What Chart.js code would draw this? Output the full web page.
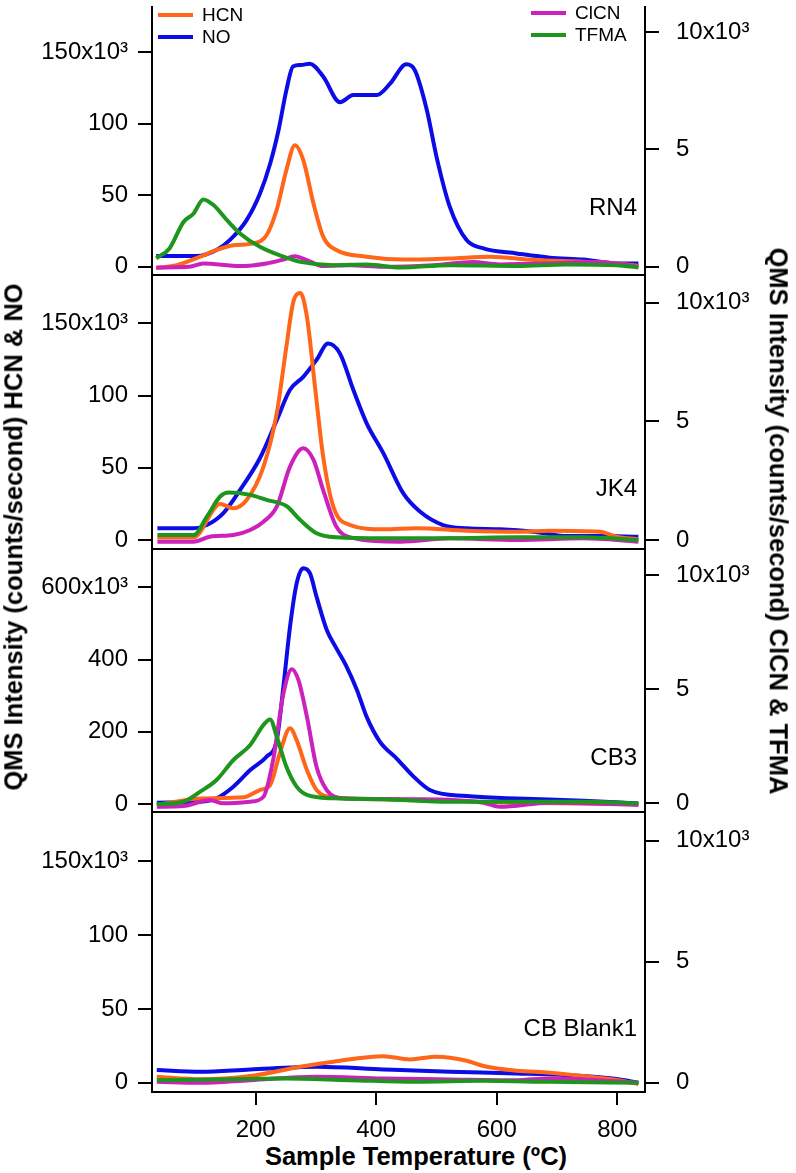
<!DOCTYPE html>
<html>
<head>
<meta charset="utf-8">
<script src="https://cdn.jsdelivr.net/npm/chart.js@4.4.1/dist/chart.umd.min.js"></script>
<style>
  html, body { margin: 0; padding: 0; background: #fff; }
  #wrap { position: relative; width: 796px; height: 1173px; overflow: hidden;
          font-family: "Liberation Sans", Arial, sans-serif; color: #000; }
  .panel { position: absolute; left: 0; width: 796px; }
  .title { position: absolute; font-weight: bold; font-size: 25.5px; line-height: 1; white-space: nowrap; }
</style>
</head>
<body>
<div id="wrap">
  <div class="panel" style="top:0;height:279px"><canvas id="c1"></canvas></div>
  <div class="panel" style="top:271px;height:282px"><canvas id="c2"></canvas></div>
  <div class="panel" style="top:545px;height:271px"><canvas id="c3"></canvas></div>
  <div class="panel" style="top:808px;height:334px"><canvas id="c4"></canvas></div>

  <div class="title" style="left:14px;top:537px;transform:translate(-50%,-50%) rotate(-90deg)">QMS Intensity (counts/second) HCN &amp; NO</div>
  <div class="title" style="left:778px;top:521px;transform:translate(-50%,-50%) rotate(90deg)">QMS Intensity (counts/second) ClCN &amp; TFMA</div>
  <div class="title" style="left:416px;top:1157px;transform:translate(-50%,-50%)">Sample Temperature (ºC)</div>
</div>

<script>
'use strict';

// ── Axis ticks ────────────────────────────────────────────────
const X_TICKS      = [200, 400, 600, 800];
const LEFT_TICKS   = [0, 50, 100, 150];
const LEFT_TICKS_3 = [0, 200, 400, 600];
const RIGHT_TICKS  = [0, 5, 10];

// ── RN4 (values in thousands of counts/s) ────────────────────
const rn4NoT   = [35,102,135,157,185,207,224,238,251,262,275,290,312,340,362,401,423,450,464,484,500,522,550,578,633,688,744,799,835];
const rn4No    = [7.5,7.5,11.7,18.6,32.6,51,72,95.6,123.5,140,141,142,133,115,120,120,128,141.5,137.5,109.6,77,42,18.6,12.8,9.3,6.3,5,2.3,2.3];
const rn4HcnT  = [35,69,108,135,163,196,218,235,251,265,279,296,312,334,384,445,522,589,661,744,799,835];
const rn4Hcn   = [-1,1,7,11.7,15,16.3,22,40,67.6,85,74.6,44,21,11.7,7,5,5.8,7,4.7,3.5,2.3,0.5];
const rn4ClcnT = [35,90,113,174,218,246,265,285,312,357,412,495,561,605,688,755,799,835];
const rn4Clcn  = [-0.03,0,0.14,0.03,0.14,0.31,0.45,0.28,0.03,0.07,0,0.07,0.2,0.1,0.14,0.2,0.14,0];
const rn4TfmaT = [35,57,80,97,113,130,152,174,207,246,274,329,384,440,522,633,716,799,835];
const rn4Tfma  = [0.36,0.78,1.9,2.27,2.87,2.63,2.0,1.42,0.85,0.43,0.21,0.07,0.1,-0.03,0.07,0.03,0.1,0.07,-0.03];

// ── JK4 ───────────────────────────────────────────────────────
const jk4NoT   = [37,97,119,146,174,207,235,257,279,301,320,340,362,384,412,445,473,511,550,605,661,716,771,835];
const jk4No    = [8.1,8.1,10.4,18.5,34.6,56.6,83,104,113,124.7,136,129,104,81,60,32.3,19.6,10.4,8.1,7.4,5.8,2.8,2.8,2.3];
const jk4HcnT  = [37,97,141,163,185,213,235,251,262,274,285,299,312,329,357,412,467,550,633,688,771,799,835];
const jk4Hcn   = [1.8,1.8,25,22,27.7,50.8,87.8,134,164,171,154.7,104,57.7,23,10.4,7.4,8.1,6.5,5.8,6.5,5.8,2.3,0.5];
const jk4ClcnT = [37,97,124,163,191,213,235,257,279,296,312,334,357,440,522,633,744,835];
const jk4Clcn  = [-0.07,-0.07,0.14,0.21,0.42,0.77,1.4,3.09,3.86,3.37,2.1,0.56,0.11,-0.07,0.07,0,0.07,-0.07];
const jk4TfmaT = [37,97,119,141,155,191,218,251,274,301,334,412,522,633,744,835];
const jk4Tfma  = [0.21,0.21,0.98,1.83,2.0,1.9,1.69,1.43,0.84,0.28,0.11,0.07,0.07,0.11,0.11,0];

// ── CB3 ───────────────────────────────────────────────────────
const cb3NoT   = [36,108,135,163,191,218,235,246,257,268,279,290,301,318,334,351,368,384,406,434,462,489,550,633,744,835];
const cb3No    = [3.7,6.5,15.7,48,94,131,177,325,491,611,653,639,574,482,431,380,316,242,173,126,76,39,22,15.7,9,1.8];
const cb3HcnT  = [36,108,180,207,224,240,257,268,285,301,329,412,522,633,744,835];
const cb3Hcn   = [-2.8,15.7,18.5,38.8,52.6,140,210,177,94,38.8,18.5,13,9,3.7,1.8,0];
const cb3ClcnT = [36,80,124,146,191,213,229,246,260,271,285,301,318,345,467,578,605,688,835];
const cb3Clcn  = [-0.15,-0.12,0.15,0,0.07,0.29,1.9,4.8,5.88,5.4,3.8,1.6,0.58,0.22,0.18,0.03,-0.15,0.03,-0.07];
const cb3TfmaT = [36,80,108,135,163,191,213,224,235,251,268,285,329,412,522,633,744,835];
const cb3Tfma  = [-0.04,0.07,0.51,1.02,1.9,2.56,3.44,3.68,2.92,1.6,0.73,0.37,0.22,0.18,0.07,0.07,0.07,0];

// ── CB Blank1 ─────────────────────────────────────────────────
const blkNoT   = [36,108,191,301,412,522,633,744,799,835];
const blkNo    = [8.6,7.4,9,10.8,9,7.4,6.3,4.5,2.5,0];
const blkHcnT  = [36,108,191,274,329,412,456,500,550,578,633,688,744,799,835];
const blkHcn   = [4,2.3,4.5,10.8,14.2,18,15.8,17.6,14.9,11.3,8.1,6.8,4.5,1.8,-0.9];
const blkClcnT = [36,108,191,301,412,522,633,688,744,835];
const blkClcn  = [0.04,0,0.11,0.25,0.18,0.14,0.11,0.18,0.14,0];
const blkTfmaT = [36,135,246,356,467,578,688,835];
const blkTfma  = [0.11,0.14,0.18,0.11,0.04,0.08,0.04,0];

const COLORS = { HCN: '#ff6619', NO: '#0c0ce6', ClCN: '#cc22bb', TFMA: '#1e961e' };
const FONT = '"Liberation Sans", Arial, sans-serif';

Chart.defaults.font.family = FONT;
Chart.defaults.color = '#000';

const pts = (t, v) => t.map((x, i) => ({ x, y: v[i] }));

// panel name, drawn at the right side of each plot
const panelLabel = {
  id: 'panelLabel',
  afterDatasetsDraw(chart, args, opts) {
    const { ctx, chartArea } = chart;
    ctx.save();
    ctx.font = '24px ' + FONT;
    ctx.fillStyle = '#000';
    ctx.textAlign = 'right';
    ctx.textBaseline = 'middle';
    ctx.fillText(opts.text, chartArea.right - 8, chart.scales.yL.getPixelForValue(opts.at));
    ctx.restore();
  }
};

// two-column legend of the top panel
const topLegend = {
  id: 'topLegend',
  afterDatasetsDraw(chart, args, opts) {
    if (!opts.show) return;
    const { ctx, chartArea } = chart;
    const groups = [
      { x: chartArea.left + 6,    y: chartArea.top + 8, names: ['HCN', 'NO'] },
      { x: chartArea.right - 114, y: chartArea.top + 6, names: ['ClCN', 'TFMA'] }
    ];
    ctx.save();
    ctx.font = '19px ' + FONT;
    ctx.textBaseline = 'middle';
    ctx.lineWidth = 4;
    groups.forEach(g => g.names.forEach((n, i) => {
      const y = g.y + i * 22;
      ctx.strokeStyle = COLORS[n];
      ctx.beginPath(); ctx.moveTo(g.x, y); ctx.lineTo(g.x + 35, y); ctx.stroke();
      ctx.fillStyle = '#000';
      ctx.fillText(n, g.x + 44, y + 1);
    }));
    ctx.restore();
  }
};

function makePanel(p) {
  const ds = (name, t, v, axis) => ({
    label: name, data: pts(t, v), yAxisID: axis,
    borderColor: COLORS[name], backgroundColor: COLORS[name]
  });
  const fixY = w => s => { s.width = w; s.paddingTop = 0; s.paddingBottom = 0; };
  const tickLabel = ticks => v => v === ticks[ticks.length - 1] ? v + 'x10³' : String(v);

  new Chart(document.getElementById(p.id), {
    type: 'line',
    data: {
      datasets: [
        ds('TFMA', p.tfma[0], p.tfma[1], 'yR'),
        ds('ClCN', p.clcn[0], p.clcn[1], 'yR'),
        ds('HCN',  p.hcn[0],  p.hcn[1],  'yL'),
        ds('NO',   p.no[0],   p.no[1],   'yL')
      ]
    },
    options: {
      responsive: true,
      maintainAspectRatio: false,
      animation: false,
      layout: { padding: { top: p.padTop, bottom: p.padBottom, left: 0, right: 0 } },
      elements: {
        point: { radius: 0 },
        line: { borderWidth: 4, cubicInterpolationMode: 'monotone' }
      },
      plugins: {
        legend: { display: false },
        tooltip: { enabled: false },
        panelLabel: { text: p.label, at: p.labelAt },
        topLegend: { show: !!p.legend }
      },
      scales: {
        x: {
          type: 'linear', min: 28, max: 846,
          afterBuildTicks: s => { s.ticks = X_TICKS.map(value => ({ value })); },
          afterFit: s => { s.height = p.xAxis ? 50 : 0; s.paddingLeft = 0; s.paddingRight = 0; },
          ticks: { display: !!p.xAxis, font: { size: 24 }, padding: 11, maxRotation: 0 },
          grid: { drawOnChartArea: false, drawTicks: !!p.xAxis, tickLength: 13, lineWidth: 2, color: '#000' },
          border: { display: true, width: 2, color: '#000' }
        },
        yL: {
          type: 'linear', position: 'left', min: p.left[0], max: p.left[1],
          afterBuildTicks: s => { s.ticks = p.leftTicks.map(value => ({ value })); },
          afterFit: fixY(152),
          ticks: { font: { size: 24 }, padding: 10, callback: tickLabel(p.leftTicks) },
          grid: { drawOnChartArea: false, tickLength: 14, lineWidth: 2, color: '#000' },
          border: { display: true, width: 2, color: '#000' }
        },
        yR: {
          type: 'linear', position: 'right', min: p.right[0], max: p.right[1],
          afterBuildTicks: s => { s.ticks = RIGHT_TICKS.map(value => ({ value })); },
          afterFit: fixY(151),
          ticks: { font: { size: 24 }, padding: 17, callback: tickLabel(RIGHT_TICKS) },
          grid: { drawOnChartArea: false, tickLength: 14, lineWidth: 2, color: '#000' },
          border: { display: true, width: 2, color: '#000' }
        }
      }
    },
    plugins: [panelLabel, topLegend]
  });
}

makePanel({ id: 'c1', padTop: 7, padBottom: 4, left: [-5.8, 181.6], right: [-0.35, 11.07],
  leftTicks: LEFT_TICKS, label: 'RN4', labelAt: 41, legend: true,
  no: [rn4NoT, rn4No], hcn: [rn4HcnT, rn4Hcn], clcn: [rn4ClcnT, rn4Clcn], tfma: [rn4TfmaT, rn4Tfma] });

makePanel({ id: 'c2', padTop: 4, padBottom: 4, left: [-6.2, 183.5], right: [-0.38, 11.16],
  leftTicks: LEFT_TICKS, label: 'JK4', labelAt: 35,
  no: [jk4NoT, jk4No], hcn: [jk4HcnT, jk4Hcn], clcn: [jk4ClcnT, jk4Clcn], tfma: [jk4TfmaT, jk4Tfma] });

makePanel({ id: 'c3', padTop: 4, padBottom: 4, left: [-22, 706], right: [-0.38, 11.15],
  leftTicks: LEFT_TICKS_3, label: 'CB3', labelAt: 126,
  no: [cb3NoT, cb3No], hcn: [cb3HcnT, cb3Hcn], clcn: [cb3ClcnT, cb3Clcn], tfma: [cb3TfmaT, cb3Tfma] });

makePanel({ id: 'c4', padTop: 4, padBottom: 0, left: [-6.3, 183.4], right: [-0.38, 11.19],
  leftTicks: LEFT_TICKS, label: 'CB Blank1', labelAt: 36, xAxis: true,
  no: [blkNoT, blkNo], hcn: [blkHcnT, blkHcn], clcn: [blkClcnT, blkClcn], tfma: [blkTfmaT, blkTfma] });
</script>
</body>
</html>
